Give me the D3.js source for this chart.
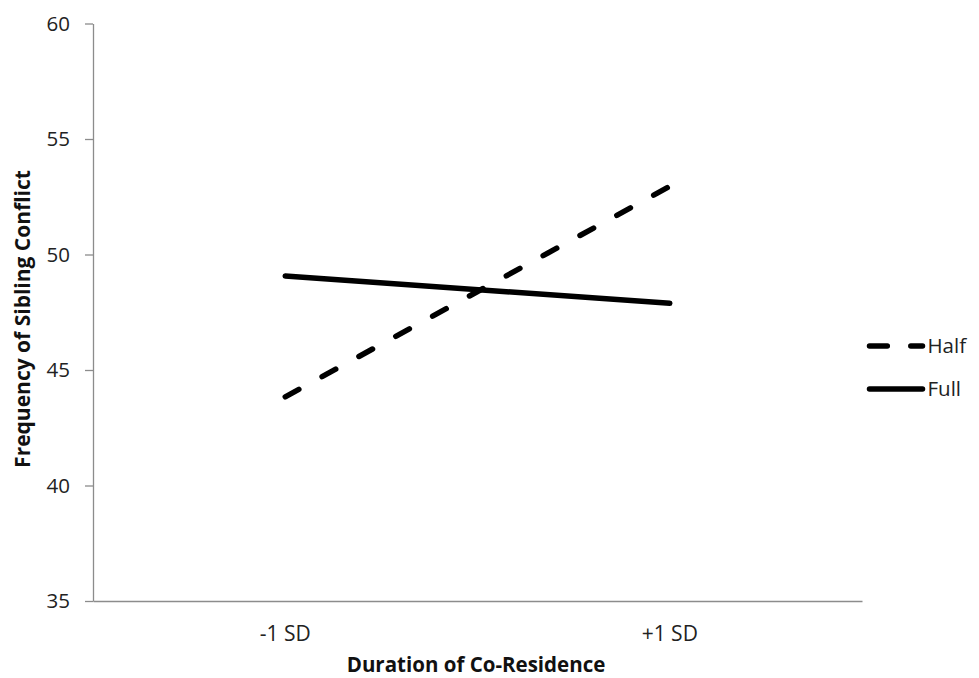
<!DOCTYPE html>
<html>
<head>
<meta charset="utf-8">
<script src="https://cdn.jsdelivr.net/npm/d3@7"></script>
<style>
  body { margin: 0; background: #fff; }
  svg { font-family: "Open Sans", sans-serif; }
</style>
</head>
<body>
<svg id="chart" width="979" height="678"></svg>
<script>
'use strict';

var categories = ['-1 SD', '+1 SD'];
var halfValues = [43.84, 52.95];
var fullValues = [49.07, 47.89];
var yTicks = [35, 40, 45, 50, 55, 60];

var series = [
  { name: 'Half', values: halfValues, dash: '15.5,26.5', legendDash: '17.8,23.5' },
  { name: 'Full', values: fullValues, dash: null, legendDash: null }
];

(function () {
  var svg = d3.select('#chart');
  var m = { left: 93, right: 862, top: 23.5, bottom: 601 };

  var x = d3.scaleBand().domain(categories).range([m.left, m.right]);
  var y = d3.scaleLinear().domain([35, 60]).range([m.bottom, m.top]);

  // y axis
  var yAxis = svg.append('g')
    .attr('transform', 'translate(' + m.left + ',0)')
    .call(d3.axisLeft(y).tickValues(yTicks).tickSize(8).tickSizeOuter(0).tickPadding(15));
  yAxis.select('.domain').attr('stroke', '#8c8c8c').attr('stroke-width', 1.3);
  yAxis.selectAll('.tick line').attr('stroke', '#8c8c8c').attr('stroke-width', 1.3);
  yAxis.selectAll('.tick text')
    .attr('font-size', '20.5px')
    .attr('fill', '#222')
    .attr('font-family', '"Open Sans", sans-serif');

  // x axis
  var xAxis = svg.append('g')
    .attr('transform', 'translate(0,' + m.bottom + ')')
    .call(d3.axisBottom(x).tickSize(0).tickSizeOuter(0).tickPadding(25));
  xAxis.select('.domain').attr('stroke', '#8c8c8c').attr('stroke-width', 1.3);
  xAxis.selectAll('.tick text')
    .attr('font-size', '21px')
    .attr('fill', '#222')
    .attr('font-family', '"Open Sans", sans-serif');

  // axis titles
  svg.append('text')
    .attr('x', 476)
    .attr('y', 672)
    .attr('text-anchor', 'middle')
    .attr('font-size', '20.5px')
    .attr('font-weight', 'bold')
    .attr('fill', '#111')
    .text('Duration of Co-Residence');

  svg.append('text')
    .attr('transform', 'translate(30,319) rotate(-90)')
    .attr('text-anchor', 'middle')
    .attr('font-size', '21px')
    .attr('font-weight', 'bold')
    .attr('fill', '#111')
    .text('Frequency of Sibling Conflict');

  // lines
  var line = d3.line()
    .x(function (d, i) { return x(categories[i]) + x.bandwidth() / 2; })
    .y(function (d) { return y(d); });

  svg.selectAll('path.series')
    .data(series)
    .enter().append('path')
    .attr('class', 'series')
    .attr('d', function (d) { return line(d.values); })
    .attr('fill', 'none')
    .attr('stroke', '#000')
    .attr('stroke-width', 5.5)
    .attr('stroke-linecap', 'round')
    .attr('stroke-dasharray', function (d) { return d.dash; });

  // legend
  var legend = svg.selectAll('g.legend')
    .data(series)
    .enter().append('g')
    .attr('class', 'legend')
    .attr('transform', function (d, i) { return 'translate(869.5,' + (346 + i * 43) + ')'; });

  legend.append('line')
    .attr('x1', 0).attr('x2', 53)
    .attr('stroke', '#000')
    .attr('stroke-width', 5.5)
    .attr('stroke-linecap', 'round')
    .attr('stroke-dasharray', function (d) { return d.legendDash; });

  legend.append('text')
    .attr('x', 58)
    .attr('dy', '0.35em')
    .attr('font-size', '20.5px')
    .attr('fill', '#222')
    .text(function (d) { return d.name; });
})();
</script>
</body>
</html>
